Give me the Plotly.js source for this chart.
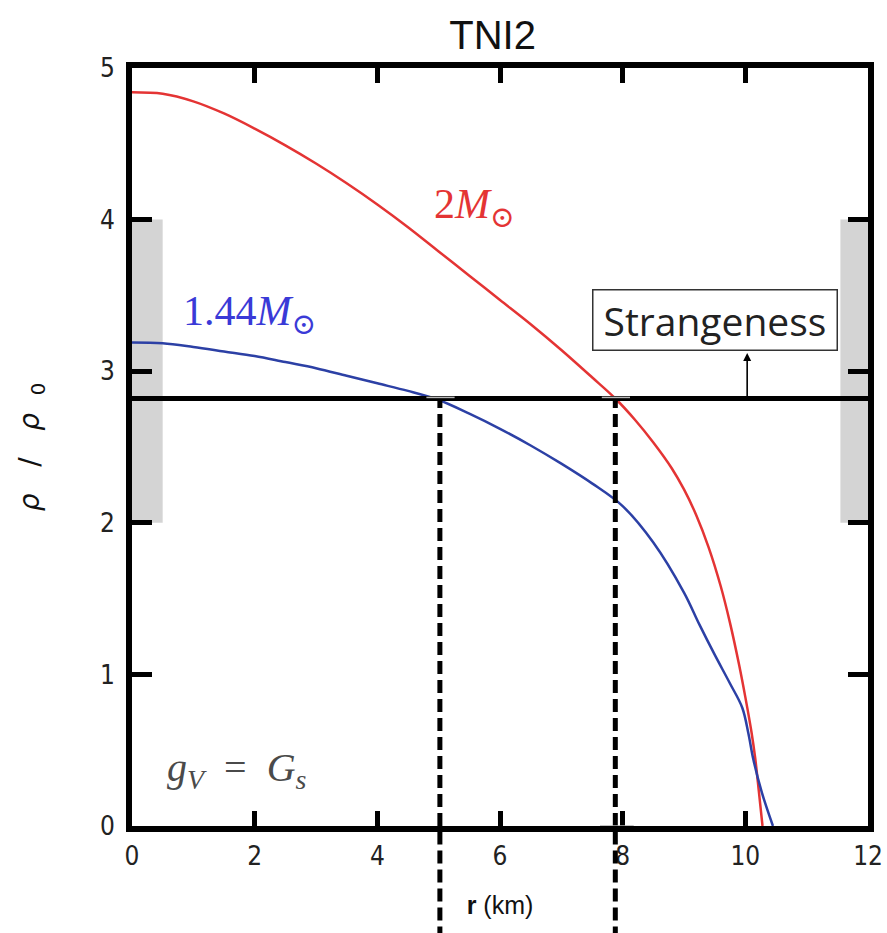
<!DOCTYPE html>
<html>
<head>
<meta charset="utf-8">
<script src="https://cdn.plot.ly/plotly-3.0.1.min.js"></script>
<style>html,body{margin:0;padding:0;background:#fff;}</style>
</head>
<body>
<div id="chart" style="width:887px;height:933px;"></div>
<script>
// radius (km) and density ratio rho/rho0 for the two stars
const r2M = [0,0.5,1,1.5,2,2.5,3,3.5,4,4.5,5,5.5,6,6.5,7,7.5,7.88,8.2,8.5,8.8,9,9.2,9.4,9.6,9.75,9.9,10,10.1,10.16,10.22,10.28];
const rho2M = [4.84,4.83,4.78,4.70,4.60,4.49,4.37,4.24,4.10,3.95,3.79,3.63,3.47,3.31,3.14,2.96,2.82,2.68,2.53,2.36,2.22,2.05,1.84,1.58,1.34,1.06,0.85,0.62,0.45,0.23,0.0];
const r144M = [0,0.5,1,1.5,2,2.5,3,3.5,4,4.5,5,5.5,6,6.5,7,7.5,8,8.5,9,9.25,9.5,9.75,9.95,10.05,10.13,10.27,10.45];
const rho144M = [3.19,3.185,3.16,3.13,3.10,3.06,3.02,2.97,2.92,2.87,2.81,2.72,2.62,2.51,2.39,2.26,2.11,1.87,1.54,1.33,1.13,0.94,0.78,0.61,0.44,0.22,0.0];
// strangeness threshold and where each curve crosses it
const threshold = 2.82;
const crossR = [5.02, 7.88];
// grey bands
const bandX = [[0, 0.5], [11.55, 12]];
const bandY = [2, 4];
const xTicks = [0,2,4,6,8,10,12];
const yTicks = [0,1,2,3,4,5];

const tickFont = {family: 'Liberation Sans Narrow, DejaVu Sans Condensed, Liberation Sans, sans-serif', size: 26, color: '#222'};
const mathFont = 'Liberation Serif, DejaVu Serif, serif';

const traces = [
  {x: r2M, y: rho2M, mode: 'lines', line: {color: 'rgb(228,52,52)', width: 2.5, shape: 'spline', smoothing: 1}, hoverinfo: 'skip'},
  {x: r144M, y: rho144M, mode: 'lines', line: {color: 'rgb(44,64,165)', width: 2.5, shape: 'spline', smoothing: 1}, hoverinfo: 'skip'}
];

const shapes = [];
bandX.forEach(b => shapes.push({type: 'rect', xref: 'x', yref: 'y', x0: b[0], x1: b[1], y0: bandY[0], y1: bandY[1], fillcolor: '#d4d4d4', line: {width: 0}, layer: 'below'}));
shapes.push({type: 'line', xref: 'x', yref: 'y', x0: 0, x1: 12, y0: threshold, y1: threshold, line: {color: '#000', width: 5}, layer: 'above'});
crossR.forEach(xc => {
  shapes.push({type: 'line', xref: 'x', yref: 'y', x0: xc, x1: xc, y0: 0, y1: threshold, line: {color: '#000', width: 5, dash: '13px,6px'}, layer: 'above'});
  shapes.push({type: 'line', xref: 'x', yref: 'paper', x0: xc, x1: xc, y0: -0.2, y1: 0, line: {color: '#000', width: 5, dash: '13px,6px'}, layer: 'above'});
  shapes.push({type: 'line', xref: 'x', yref: 'y', x0: xc - 0.22, x1: xc + 0.24, y0: threshold + 0.007, y1: threshold + 0.007, line: {color: '#b8b8b8', width: 1.5}, layer: 'above'});
});
shapes.push({type: 'line', xref: 'x', yref: 'y', x0: crossR[1] - 0.25, x1: crossR[1] + 0.3, y0: 0, y1: 0, line: {color: '#b0b0b0', width: 1.5}, layer: 'above'});

const annotations = [
  {x: 5.59, y: 4.08, xref: 'x', yref: 'y', text: '2<i>M</i><sub>⊙</sub>', showarrow: false,
   font: {family: mathFont, size: 42, color: 'rgb(228,52,52)'}},
  {x: 1.91, y: 3.38, xref: 'x', yref: 'y', text: '1.44<i>M</i><sub>⊙</sub>', showarrow: false,
   font: {family: mathFont, size: 42, color: 'rgb(58,58,215)'}},
  {x: 1.72, y: 0.37, xref: 'x', yref: 'y', text: '<i>g</i><sub><i>V</i></sub>  =  <i>G</i><sub><i>s</i></sub>', showarrow: false,
   font: {family: mathFont, size: 40, color: '#4a4a4a'}},
  {x: 9.5, y: 3.34, xref: 'x', yref: 'y', text: 'Strangeness', showarrow: false,
   font: {family: 'Open Sans, sans-serif', size: 39, color: '#222'},
   bordercolor: '#333', borderwidth: 1.5, borderpad: 1, width: 241, height: 57, bgcolor: '#fff'},
  {x: 10.03, y: 3.12, ax: 10.03, ay: threshold, xref: 'x', yref: 'y', axref: 'x', ayref: 'y', text: '',
   showarrow: true, arrowhead: 2, arrowsize: 1, arrowwidth: 1.6, arrowcolor: '#000'}
];

const layout = {
  width: 887, height: 933,
  margin: {l: 132, r: 19, t: 68, b: 107},
  paper_bgcolor: '#fff', plot_bgcolor: '#fff',
  showlegend: false,
  title: {text: 'TNI2', x: 0.49, xref: 'paper', xanchor: 'center', y: 0.963, yref: 'container', yanchor: 'middle',
          font: {family: 'Liberation Sans, sans-serif', size: 40, color: '#111'}},
  xaxis: {range: [0, 12], tickvals: xTicks, ticks: 'inside', ticklen: 15, tickwidth: 5, tickcolor: '#000',
          showline: true, linewidth: 6, linecolor: '#000', mirror: 'ticks', showgrid: false, zeroline: false,
          tickfont: tickFont, ticklabelstandoff: 2,
          title: {text: '<b>r</b> (km)', standoff: 28, font: {family: 'Liberation Sans, sans-serif', size: 25, color: '#111'}}},
  yaxis: {range: [0, 5], tickvals: yTicks, ticks: 'inside', ticklen: 20, tickwidth: 5, tickcolor: '#000',
          showline: true, linewidth: 6, linecolor: '#000', mirror: 'ticks', showgrid: false, zeroline: false,
          tickfont: tickFont, ticklabelstandoff: 6,
          title: {text: '<i>ρ</i>   /   <i>ρ</i>  <sub>0</sub>', standoff: 54, font: {family: 'DejaVu Sans, sans-serif', size: 28, color: '#111'}}},
  shapes: shapes,
  annotations: annotations
};

Plotly.newPlot('chart', traces, layout, {staticPlot: true});
</script>
</body>
</html>
